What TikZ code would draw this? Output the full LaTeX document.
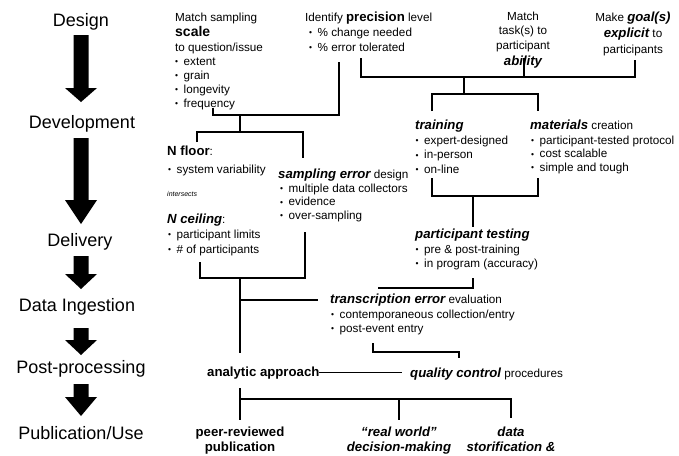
\documentclass[tikz,border=0pt]{standalone}
\usepackage{fontspec}
\setmainfont{Liberation Sans}
\newcommand\bu{\makebox[8.5pt][l]{\raisebox{0.3pt}{\fontsize{8.5}{8}\selectfont\textbullet}}}
\newcommand\bi[1]{{\bfseries\itshape #1}}
\newcommand\hsz{\fontsize{13.2}{15}\selectfont}
\tikzset{
  stage/.style={font=\fontsize{18}{20}\selectfont, anchor=base, inner sep=0pt},
  hd/.style={font=\hsz\bfseries, anchor=base west, inner sep=0pt},
  hdi/.style={font=\hsz\bfseries\itshape, anchor=base west, inner sep=0pt},
  txt/.style={font=\fontsize{11.7}{14}\selectfont, anchor=base west, inner sep=0pt, align=left},
  ctr/.style={font=\fontsize{11.7}{14}\selectfont, anchor=base, inner sep=0pt, align=center},
  conn/.style={line width=1.1pt, line join=miter},
  bigarrow/.style={fill=black, draw=none}
}
\begin{document}
\begin{tikzpicture}[x=1pt,y=-1pt]
\useasboundingbox (0,0) rectangle (679,455);

% ---- stage labels
\node[stage] (design) at (81,26) {Design};
\node[stage] (devel) at (82,128) {Development};
\node[stage] (deliv) at (80,246) {Delivery};
\node[stage] (ingest) at (77,311) {Data Ingestion};
\node[stage] (post) at (81,373) {Post-processing};
\node[stage] (pub) at (81,439) {Publication/Use};

% ---- big arrows
\newcommand\bigarr[3]{\fill[bigarrow] (73.5,#1) -- (88.5,#1) -- (88.5,#2) -- (97,#2) -- (81,#3) -- (65,#2) -- (73.5,#2) -- cycle;}
\bigarr{35}{88}{102}
\bigarr{138}{200}{224}
\bigarr{256}{274}{289}
\bigarr{328}{340}{355}
\bigarr{384}{397}{416}

% ---- design row (multi-line nodes: base = last line)
\node[txt] (ms1) at (175,21) {Match sampling};
\node[font=\fontsize{14}{15}\selectfont\bfseries, anchor=base west, inner sep=0pt] (scale) at (175,36) {scale};
\node[txt] (ms2) at (175,107) {to question/issue\\\bu extent\\\bu grain\\\bu longevity\\\bu frequency};

\node[txt] (prec) at (305,21) {Identify {\hsz\bfseries precision} level};
\node[txt, font=\fontsize{11.7}{15}\selectfont] (precl) at (309,51) {\bu \% change needed\\\bu \% error tolerated};

\node[ctr, font=\fontsize{11.7}{14.5}\selectfont] (ab1) at (523,49) {Match\\task(s) to\\participant};
\node[font=\hsz\bfseries\itshape, anchor=base, inner sep=0pt] (ab2) at (523,65) {ability};

\node[ctr, font=\fontsize{11.7}{16}\selectfont] (goal) at (633,53) {Make {\hsz\bi{goal(s)}}\\{\hsz\bi{explicit}} to\\participants};

% ---- development row
\node[hdi] (train) at (415,129) {training};
\node[txt, font=\fontsize{11.7}{14.5}\selectfont] (trainl) at (415.5,173) {\bu expert-designed\\\bu in-person\\\bu on-line};
\node[txt] (mat) at (530,129) {{\hsz\bi{materials}} creation};
\node[txt, font=\fontsize{11.7}{13.5}\selectfont] (matl) at (531,171) {\bu participant-tested protocol\\\bu cost scalable\\\bu simple and tough};

\node[txt] (nfloor) at (167,155) {{\hsz\bfseries N floor}:};
\node[txt] (nfloorl) at (168,173) {\bu system variability};
\node[font=\fontsize{7}{8}\selectfont\itshape, anchor=base west, inner sep=0pt] (inter) at (167,196) {intersects};
\node[txt] (nceil) at (167,223) {{\hsz\bi{N ceiling}}:};
\node[txt, font=\fontsize{11.7}{15}\selectfont] (nceill) at (168,253) {\bu participant limits\\\bu \# of participants};

\node[txt] (samp) at (278,178) {{\hsz\bi{sampling error}} design};
\node[txt, font=\fontsize{11.7}{13.5}\selectfont] (sampl) at (280,219) {\bu multiple data collectors\\\bu evidence\\\bu over-sampling};

% ---- delivery / ingestion
\node[hdi] (ptest) at (415,238) {participant testing};
\node[txt] (ptestl) at (415.5,267) {\bu pre \& post-training\\\bu in program (accuracy)};

\node[txt] (trans) at (330,303) {{\hsz\bi{transcription error}} evaluation};
\node[txt] (transl) at (331,332) {\bu contemporaneous collection/entry\\\bu post-event entry};

% ---- post-processing
\node[hd] (anal) at (207,376) {analytic approach};
\node[txt] (qc) at (410,377) {{\hsz\bi{quality control}} procedures};

% ---- publication
\node[ctr, font=\hsz\bfseries] (peer) at (240,451) {peer-reviewed\\publication};
\node[ctr, font=\hsz\bfseries\itshape] (real) at (399,451) {“real world”\\decision-making};
\node[ctr, font=\hsz\bfseries\itshape] (story) at (511,451) {data\\storification \&};

% ---- connector coordinates
\coordinate (sA) at (213,108); \coordinate (sB) at (213,115);
\coordinate (sC) at (339,115); \coordinate (sD) at (339,62);
\coordinate (sM) at (240,115); \coordinate (sN) at (240,132);
\coordinate (fA) at (197,142); \coordinate (fB) at (197,132);
\coordinate (fC) at (303,132); \coordinate (fD) at (303,158);
\coordinate (pA) at (361,58); \coordinate (pB) at (361,77);
\coordinate (pC) at (635,77); \coordinate (pD) at (635,60);
\coordinate (aA) at (524,58); \coordinate (aB) at (524,77);
\coordinate (pM) at (464,77); \coordinate (pN) at (464,94);
\coordinate (tA) at (432,111); \coordinate (tB) at (432,94);
\coordinate (tC) at (538,94); \coordinate (tD) at (538,111);
\coordinate (uA) at (432,178); \coordinate (uB) at (432,196);
\coordinate (uC) at (538,196); \coordinate (uD) at (538,178);
\coordinate (uM) at (473,196); \coordinate (uN) at (473,227);
\coordinate (cA) at (200,262); \coordinate (cB) at (200,278);
\coordinate (cC) at (305,278); \coordinate (cD) at (305,232);
\coordinate (cM) at (240,278); \coordinate (cN) at (240,353);
\coordinate (cT) at (240,300); \coordinate (cU) at (318,300);
\coordinate (vA) at (473,278); \coordinate (vB) at (473,288);
\coordinate (vC) at (378,288);
\coordinate (eA) at (373,343); \coordinate (eB) at (373,352);
\coordinate (eC) at (459,352); \coordinate (eD) at (459,358);
\coordinate (qA) at (319,372.5); \coordinate (qB) at (402,372.5);
\coordinate (oA) at (240,388); \coordinate (oB) at (240,420);
\coordinate (oM) at (240,399); \coordinate (oC) at (511,399);
\coordinate (oD) at (511,418);
\coordinate (rA) at (399,399); \coordinate (rB) at (399,420);

% ---- connectors
\draw[conn] (sA) -- (sB) -- (sC) -- (sD);
\draw[conn] (sM) -- (sN);
\draw[conn] (fA) -- (fB) -- (fC) -- (fD);
\draw[conn] (pA) -- (pB) -- (pC) -- (pD);
\draw[conn] (aA) -- (aB);
\draw[conn] (pM) -- (pN);
\draw[conn] (tA) -- (tB) -- (tC) -- (tD);
\draw[conn] (uA) -- (uB) -- (uC) -- (uD);
\draw[conn] (uM) -- (uN);
\draw[conn] (cA) -- (cB) -- (cC) -- (cD);
\draw[conn] (cM) -- (cN);
\draw[conn] (cT) -- (cU);
\draw[conn] (vA) -- (vB) -- (vC);
\draw[conn] (eA) -- (eB) -- (eC) -- (eD);
\draw[conn] (qA) -- (qB);
\draw[conn] (oA) -- (oB);
\draw[conn] (oM) -- (oC) -- (oD);
\draw[conn] (rA) -- (rB);
\end{tikzpicture}
\end{document}
